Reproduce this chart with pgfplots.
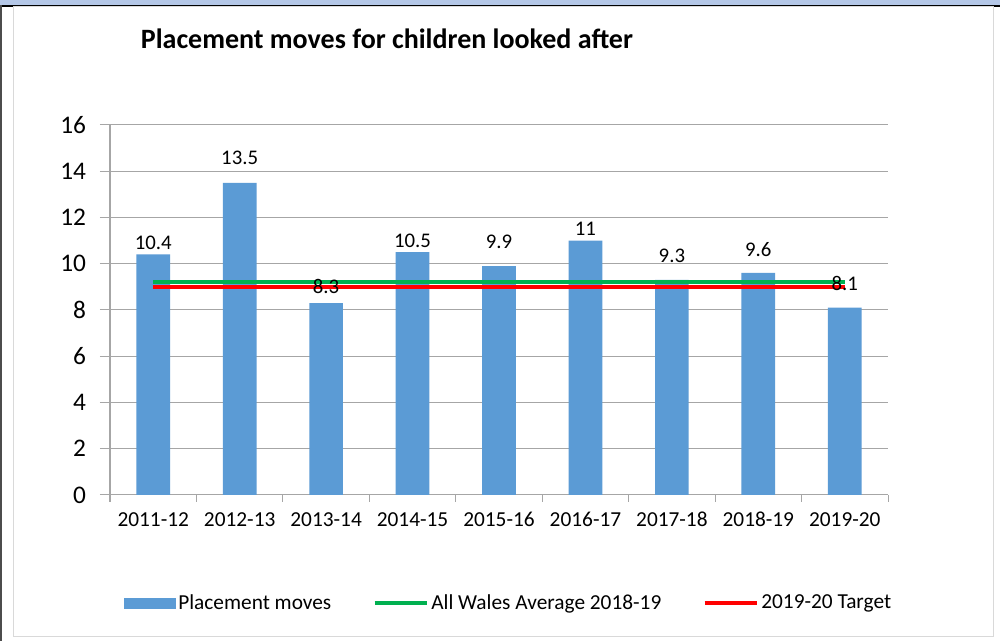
\documentclass[border=0pt]{standalone}
\usepackage{pgfplots}
\pgfplotsset{compat=1.18}
\usepackage{fontspec}
\setmainfont{Carlito}
\definecolor{barblue}{HTML}{5B9BD5}
\definecolor{avggreen}{HTML}{00B050}
\definecolor{tgtred}{HTML}{FF0000}
\definecolor{gridgray}{HTML}{A6A6A6}
\definecolor{topband}{HTML}{B4C7E7}
\pgfplotstableread{
x y off
0 10.4 0
1 13.5 9.75
2 8.3 3.75
3 10.5 0
4 9.9 9.75
5 11 0
6 9.3 9.75
7 9.6 9
8 8.1 9
}\moves
\begin{document}
\begin{tikzpicture}
\path[use as bounding box] (0,0) rectangle (750pt,480.75pt);
\fill[white] (0,0) rectangle (750pt,480.75pt);
\fill[topband] (0,477pt) rectangle (750pt,480.75pt);
\fill[black] (0,475.5pt) rectangle (750pt,477pt);
\fill[black!70] (0,0) rectangle (1.5pt,477pt);
\draw[black!15, line width=0.75pt] (9.75pt,3pt) rectangle (744.75pt,475.5pt);
\begin{axis}[
  at={(82.5pt,109.5pt)}, anchor=south west,
  scale only axis, width=583.5pt, height=277.5pt,
  xmin=-0.5, xmax=8.5, ymin=0, ymax=16,
  ytick={0,2,...,16},
  xtick={0,...,8},
  xticklabels={2011-12,2012-13,2013-14,2014-15,2015-16,2016-17,2017-18,2018-19,2019-20},
  minor xtick={-0.5,0.5,...,8.5},
  axis x line*=bottom, axis y line*=left,
  axis line style={gridgray, line width=0.75pt},
  ymajorgrids, major grid style={gridgray, line width=0.75pt},
  tick align=outside,
  major tick length=7.5pt, minor tick length=5pt,
  major x tick style={draw=none},
  minor x tick style={gridgray, line width=0.75pt},
  y tick style={gridgray, line width=0.75pt},
  /pgf/number format/assume math mode=true,
  yticklabel style={font=\fontsize{19}{21}\selectfont, xshift=-7pt},
  xticklabel style={font=\fontsize{16}{18}\selectfont, text height=11.5pt, text depth=3pt, yshift=-1pt},
  title={Placement moves for children looked after},
  title style={at={(0.356,1.211)}, anchor=center, font=\fontsize{21}{24}\selectfont\bfseries},
  legend style={at={(0.5125,-0.292)}, anchor=center, draw=none, legend columns=3,
    font=\fontsize{16}{18}\selectfont,
    /tikz/every even column/.append style={column sep=29pt}},
]
\addplot[ybar, bar width=0.39, fill=barblue, draw=none,
  visualization depends on={\thisrow{off} \as \labshift},
  nodes near coords, nodes near coords style={font=\fontsize{15.6}{17}\selectfont, text=black, yshift=\labshift pt},
  legend image code/.code={\fill[barblue] (0pt,-4.1pt) rectangle (39pt,4.1pt);}]
  table[x=x, y=y] {\moves};
\addlegendentry{Placement moves}
\addplot[avggreen, line width=3pt,
  legend image code/.code={\draw[avggreen, line width=3pt] (0pt,0pt) -- (39pt,0pt);}]
  coordinates {(0,9.2) (8,9.2)};
\addlegendentry{All Wales Average 2018-19}
\addplot[tgtred, line width=3pt,
  legend image code/.code={\draw[tgtred, line width=3pt] (0pt,0pt) -- (39pt,0pt);}]
  coordinates {(0,9.0) (8,9.0)};
\addlegendentry{2019-20 Target}
\end{axis}
\end{tikzpicture}
\end{document}
